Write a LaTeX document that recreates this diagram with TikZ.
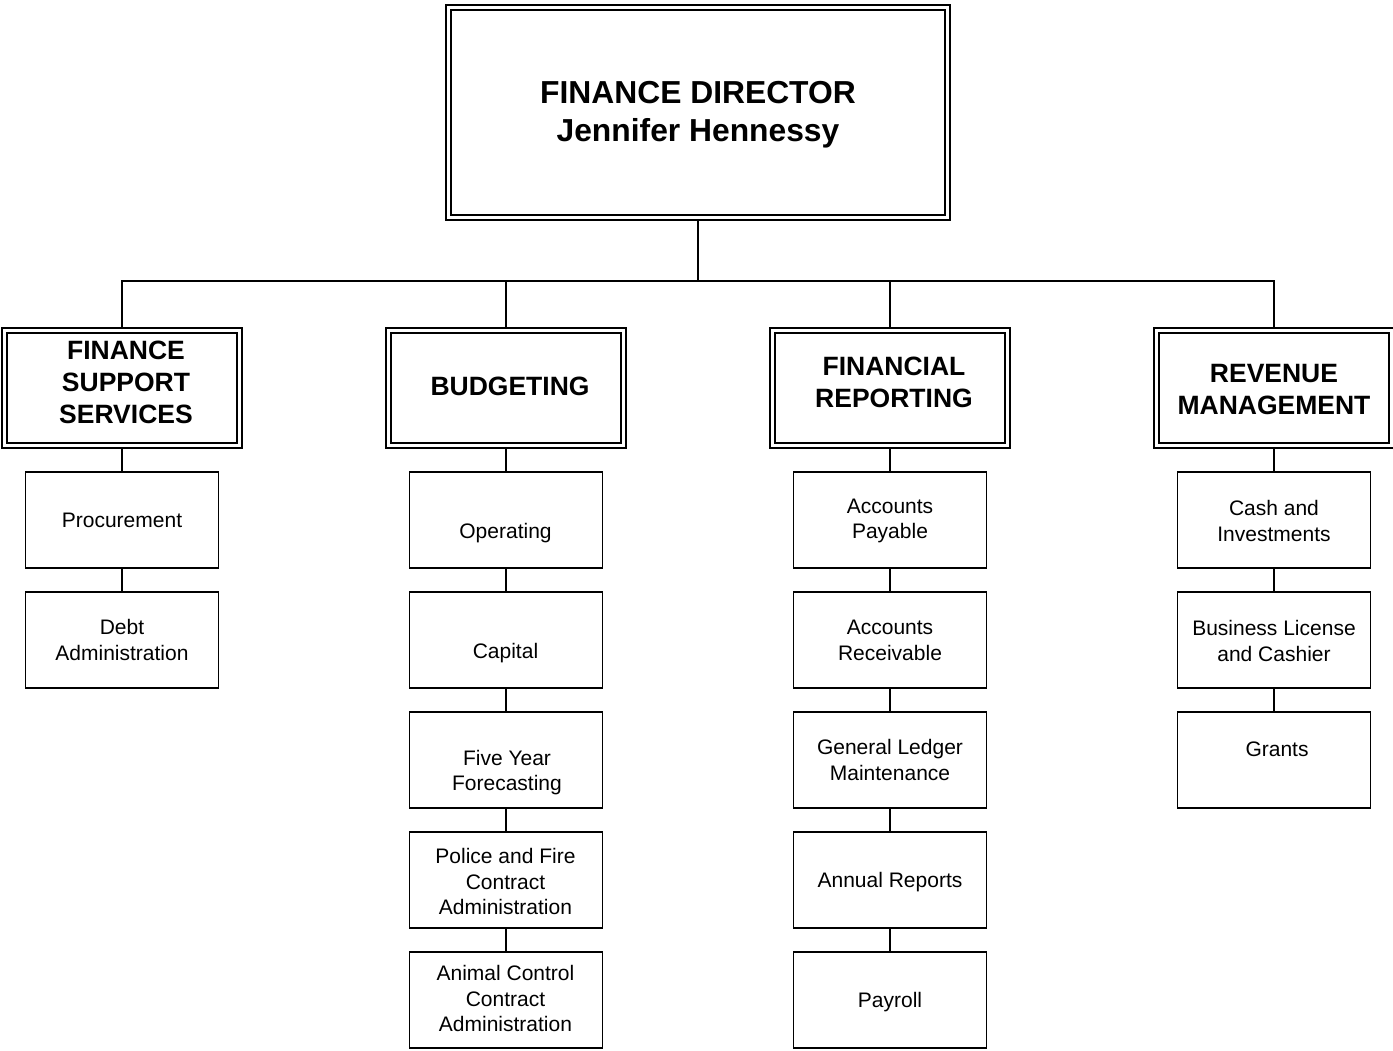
\documentclass[tikz,border=0pt]{standalone}
\usepackage{fontspec}
\setmainfont{Liberation Sans}
\begin{document}
\begin{tikzpicture}[x=1pt,y=-1pt,
  innerbox/.style={draw=black, line width=1.4pt, inner sep=0pt},
  outerline/.style={draw=black, line width=2.1pt},
  dirbox/.style={innerbox, minimum width=494pt, minimum height=205pt},
  deptbox/.style={innerbox, minimum width=230pt, minimum height=110pt},
  childbox/.style={draw=black, line width=1.5pt, minimum width=193pt, minimum height=96pt, inner sep=0pt},
  dirtxt/.style={font=\fontsize{31.8}{38}\selectfont\bfseries, align=center, inner sep=0pt},
  depttxt/.style={font=\fontsize{26.5}{32}\selectfont\bfseries, align=center, inner sep=0pt},
  childtxt/.style={font=\fontsize{21}{25.5}\selectfont, align=center, inner sep=0pt},
  conn/.style={draw=black, line width=1.5pt}
]
\useasboundingbox (0,0) rectangle (1393,1051);

% Director
\node[dirbox] (dir) at (698,112.5) {};
\draw[outerline] ([shift={(-4,-4)}]dir.north west) rectangle ([shift={(4,4)}]dir.south east);
\node[dirtxt] (dirt) at (698,115) {FINANCE DIRECTOR\\Jennifer Hennessy};

% Departments
\node[deptbox] (fss) at (122,388) {};
\node[depttxt] (fsst) at (126,382) {FINANCE\\SUPPORT\\SERVICES};
\node[deptbox] (bud) at (506,388) {};
\node[depttxt] (budt) at (510,386) {BUDGETING};
\node[deptbox] (fr) at (890,388) {};
\node[depttxt] (frt) at (894,382) {FINANCIAL\\REPORTING};
\node[deptbox] (rm) at (1274,388) {};
\node[depttxt] (rmt) at (1274,390) {REVENUE\\MANAGEMENT};
\foreach \d in {fss,bud,fr,rm}
  \draw[outerline] ([shift={(-4.5,-4.5)}]\d.north west) rectangle ([shift={(4.5,4.5)}]\d.south east);

% Bus
\coordinate (bus) at (698,281);
\draw[conn] ([yshift=-4pt]dir.south) -- (bus);
\draw[conn] (bus) -| ([yshift=4.5pt]fss.north);
\draw[conn] (bus) -| ([yshift=4.5pt]bud.north);
\draw[conn] (bus) -| ([yshift=4.5pt]fr.north);
\draw[conn] (bus) -| ([yshift=4.5pt]rm.north);

% Finance support services children
\node[childbox] (f1) at (122,520) {};
\node[childtxt] at (122,520) {Procurement};
\node[childbox] (f2) at (122,640) {};
\node[childtxt] at (122,640) {Debt\\Administration};
\draw[conn] ([yshift=-4.5pt]fss.south) -- (f1.north);
\draw[conn] (f1.south) -- (f2.north);

% Budgeting children
\node[childbox] (b1) at (506,520) {};
\node[childtxt] at (505.5,533) {Operating};
\node[childbox] (b2) at (506,640) {};
\node[childtxt] at (505.5,653) {Capital};
\node[childbox] (b3) at (506,760) {};
\node[childtxt] at (507,772.5) {Five Year\\Forecasting};
\node[childbox] (b4) at (506,880) {};
\node[childtxt] at (505.5,881.5) {Police and Fire\\Contract\\Administration};
\node[childbox] (b5) at (506,1000) {};
\node[childtxt] at (505.5,998.5) {Animal Control\\Contract\\Administration};
\draw[conn] ([yshift=-4.5pt]bud.south) -- (b1.north);
\draw[conn] (b1.south) -- (b2.north);
\draw[conn] (b2.south) -- (b3.north);
\draw[conn] (b3.south) -- (b4.north);
\draw[conn] (b4.south) -- (b5.north);

% Financial reporting children
\node[childbox] (r1) at (890,520) {};
\node[childtxt] at (890,521) {Accounts\\Payable};
\node[childbox] (r2) at (890,640) {};
\node[childtxt] at (890,640.5) {Accounts\\Receivable};
\node[childbox] (r3) at (890,760) {};
\node[childtxt] at (890,760) {General Ledger\\Maintenance};
\node[childbox] (r4) at (890,880) {};
\node[childtxt] at (890,882) {Annual Reports};
\node[childbox] (r5) at (890,1000) {};
\node[childtxt] at (890,1002) {Payroll};
\draw[conn] ([yshift=-4.5pt]fr.south) -- (r1.north);
\draw[conn] (r1.south) -- (r2.north);
\draw[conn] (r2.south) -- (r3.north);
\draw[conn] (r3.south) -- (r4.north);
\draw[conn] (r4.south) -- (r5.north);

% Revenue management children
\node[childbox] (m1) at (1274,520) {};
\node[childtxt] at (1274,521) {Cash and\\Investments};
\node[childbox] (m2) at (1274,640) {};
\node[childtxt] at (1274,641) {Business License\\and Cashier};
\node[childbox] (m3) at (1274,760) {};
\node[childtxt] at (1277,749) {Grants};
\draw[conn] ([yshift=-4.5pt]rm.south) -- (m1.north);
\draw[conn] (m1.south) -- (m2.north);
\draw[conn] (m2.south) -- (m3.north);
\end{tikzpicture}
\end{document}
